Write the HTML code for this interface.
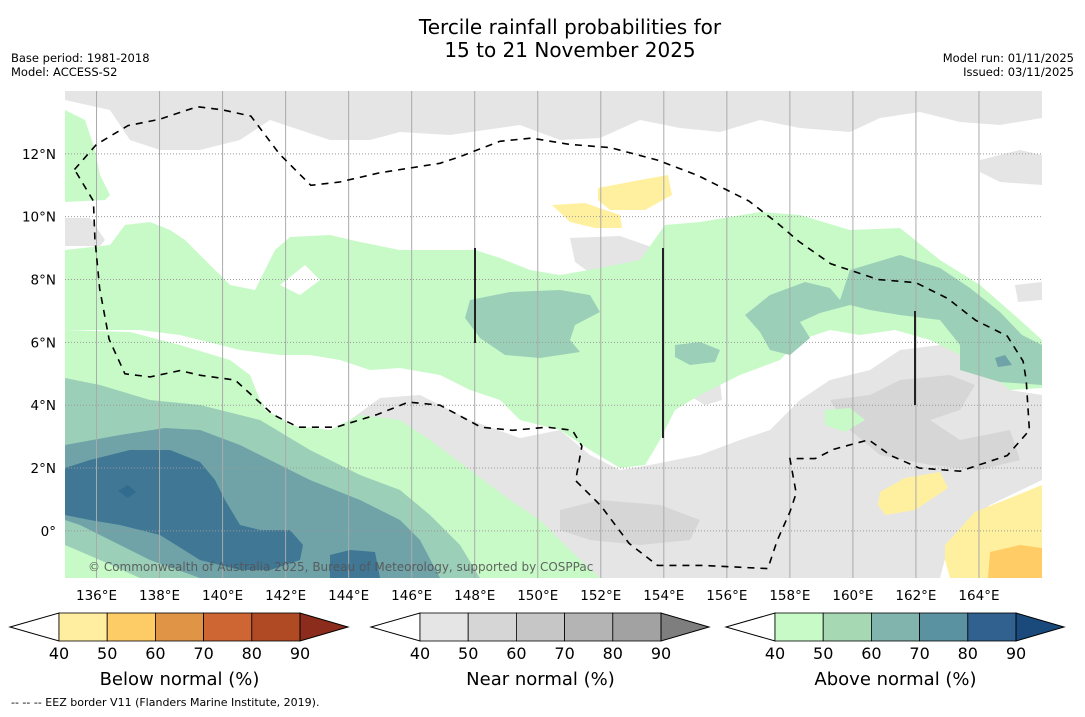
<!DOCTYPE html>
<html><head><meta charset="utf-8"><style>
html,body{margin:0;padding:0;background:#fff;}
body{width:1085px;height:713px;overflow:hidden;font-family:"DejaVu Sans","Liberation Sans",sans-serif;}
svg text{font-family:"DejaVu Sans","Liberation Sans",sans-serif;}
</style></head><body>
<svg id="fig" width="1085" height="713" viewBox="0 0 1085 713" xmlns="http://www.w3.org/2000/svg">
<rect width="1085" height="713" fill="#fff"/>
<text x="570" y="34" font-size="20" text-anchor="middle" fill="#000">Tercile rainfall probabilities for</text>
<text x="570" y="57" font-size="20" text-anchor="middle" fill="#000">15 to 21 November 2025</text>
<text x="11" y="62" font-size="11.5">Base period: 1981-2018</text>
<text x="11" y="76" font-size="11.5">Model: ACCESS-S2</text>
<text x="1074" y="62" font-size="11.5" text-anchor="end">Model run: 01/11/2025</text>
<text x="1074" y="76" font-size="11.5" text-anchor="end">Issued: 03/11/2025</text>
<defs><clipPath id="mapclip"><rect x="65" y="91" width="977" height="487"/></clipPath></defs>
<g id="map" clip-path="url(#mapclip)">
<rect x="65" y="91" width="977" height="487" fill="#fff"/>
<path fill="#e5e5e5" d="M65,91 L1042,91 L1042,118 L1000,125 L960,122 L920,112 L880,118 L850,132 L800,128 L760,120 L720,132 L680,128 L640,120 L600,138 L560,140 L520,125 L450,135 L400,132 L370,140 L330,140 L300,130 L270,120 L240,140 L200,150 L160,150 L130,140 L110,110 L65,100 Z"/>
<path fill="#e5e5e5" d="M350,420 L380,398 L420,395 L470,420 L520,438 L560,430 L590,455 L620,470 L650,465 L700,455 L740,440 L770,430 L800,400 L830,380 L870,370 L900,350 L940,345 L980,350 L1010,390 L1042,395 L1042,480 L990,505 L950,540 L940,578 L560,578 L470,560 L420,525 L395,480 L360,455 Z"/>
<path fill="#d6d6d6" d="M560,510 L600,500 L660,505 L700,520 L690,540 L640,545 L590,540 L560,530 Z"/>
<path fill="#d6d6d6" d="M830,400 L870,395 L900,380 L950,375 L975,385 L960,410 L930,420 L960,440 L1010,430 L1020,460 L980,470 L930,465 L880,455 L850,430 Z"/>
<path fill="#e5e5e5" d="M570,238 L620,236 L660,250 L680,268 L670,290 L645,312 L620,305 L600,280 L575,262 Z"/>
<path fill="#e5e5e5" d="M65,218 L90,218 L105,240 L100,246 L65,246 Z"/>
<path fill="#e5e5e5" d="M690,382 L720,382 L722,400 L705,405 L688,395 Z"/>
<path fill="#e5e5e5" d="M980,160 L1020,150 L1042,155 L1042,185 L1000,182 L980,172 Z"/>
<path fill="#e5e5e5" d="M1015,285 L1042,282 L1042,300 L1018,302 Z"/>
<path fill="#c8fac8" d="M65,250 L110,245 L125,225 L150,222 L170,230 L185,240 L210,265 L230,285 L255,290 L275,250 L290,237 L330,235 L360,242 L400,250 L440,250 L475,250 L500,258 L530,270 L560,275 L600,268 L640,260 L665,225 L700,222 L760,212 L800,215 L850,230 L900,228 L940,260 L980,285 L1020,320 L1042,340 L1042,388 L1010,390 L985,370 L960,355 L930,340 L895,330 L860,335 L830,330 L800,340 L780,360 L740,375 L700,395 L675,410 L660,440 L645,465 L620,468 L590,450 L560,430 L520,420 L500,400 L470,390 L440,375 L400,368 L370,370 L340,360 L310,355 L280,355 L240,350 L220,345 L180,335 L140,330 L100,330 L65,330 Z"/>
<path fill="#c8fac8" d="M65,110 L85,120 L95,150 L100,175 L110,195 L105,200 L65,202 Z"/>
<path fill="#c8fac8" d="M65,330 L130,332 L180,345 L230,360 L250,375 L260,400 L290,425 L330,430 L360,415 L400,420 L430,440 L470,470 L510,500 L540,520 L570,550 L600,578 L65,578 Z"/>
<path fill="#c8fac8" d="M825,410 L850,408 L865,420 L845,432 L825,425 Z"/>
<path fill="#fff" d="M280,285 L305,265 L320,280 L300,295 Z"/>
<path fill="#fff" d="M255,380 L300,372 L340,385 L360,405 L340,425 L300,428 L265,410 Z"/>
<path fill="#9bcfb8" d="M65,378 L100,385 L150,400 L200,405 L260,420 L310,450 L360,475 L400,490 L430,515 L460,545 L480,578 L140,578 L100,560 L65,545 Z"/>
<path fill="#6fa3a8" d="M65,445 L120,435 L165,428 L200,430 L240,445 L280,465 L310,480 L360,500 L400,520 L420,540 L440,578 L200,578 L150,560 L110,540 L80,525 L65,520 Z"/>
<path fill="#3f7795" d="M65,468 L90,460 L130,450 L170,450 L200,462 L215,480 L225,500 L240,525 L260,530 L290,530 L303,545 L300,560 L270,570 L240,570 L200,560 L160,535 L120,525 L90,520 L65,515 Z"/>
<path fill="#3f7795" d="M330,555 L350,550 L375,552 L380,578 L330,578 Z"/>
<path fill="#336b8f" d="M118,491 L128,485 L136,492 L128,498 Z"/>
<path fill="#9bcfb8" d="M470,300 L510,292 L560,290 L590,295 L600,312 L575,325 L570,340 L580,352 L540,358 L505,355 L480,338 L465,318 Z"/>
<path fill="#9bcfb8" d="M745,315 L770,295 L805,282 L830,288 L840,300 L850,270 L900,255 L940,268 L970,288 L1000,312 L1022,335 L1042,345 L1042,385 L1000,382 L960,370 L960,345 L940,320 L900,315 L870,310 L850,305 L820,313 L800,322 L810,338 L790,355 L770,350 L760,332 Z"/>
<path fill="#9bcfb8" d="M675,345 L700,342 L720,350 L715,362 L690,365 L675,357 Z"/>
<path fill="#6fa3a8" d="M995,358 L1005,355 L1012,365 L998,367 Z"/>
<path fill="#fff0a0" d="M598,188 L640,180 L668,175 L672,195 L645,210 L610,210 L598,200 Z"/>
<path fill="#fff0a0" d="M552,205 L585,203 L605,210 L620,215 L622,228 L595,228 L570,222 Z"/>
<path fill="#fff0a0" d="M880,492 L905,478 L940,472 L948,488 L915,510 L885,515 L878,505 Z"/>
<path fill="#fff0a0" d="M945,545 L975,512 L1010,498 L1042,485 L1042,578 L950,578 L945,560 Z"/>
<path fill="#ffcc66" d="M990,552 L1020,545 L1042,548 L1042,578 L988,578 Z"/>
</g>
<g id="grid"></g>
<g id="eez"></g>
<line x1="475" y1="248" x2="475" y2="343" stroke="#222" stroke-width="2"/>
<line x1="663" y1="248" x2="663" y2="438" stroke="#222" stroke-width="2"/>
<line x1="915" y1="311" x2="915" y2="405" stroke="#222" stroke-width="2"/>
<text x="88" y="571" font-size="12" fill="#555" opacity="0.9">© Commonwealth of Australia 2025, Bureau of Meteorology, supported by COSPPac</text>
<g id="axislabels"></g>
<g id="cbars"></g>
<text x="11" y="706" font-size="11">--  --  -- EEZ border V11 (Flanders Marine Institute, 2019).</text>
</svg>
<script>
const lonTicks = [136,138,140,142,144,146,148,150,152,154,156,158,160,162,164];
const latTicks = [0,2,4,6,8,10,12];
const cbLevels = [40,50,60,70,80,90];
const belowColors = ["#fff","#ffeda0","#fecc66","#e09445","#cd6633","#af4a25","#8b2c1c"];
const nearColors = ["#fff","#e5e5e5","#d6d6d6","#c6c6c6","#b4b4b4","#a2a2a2","#7e7e7e"];
const aboveColors = ["#fff","#c8fac8","#a6d8b4","#80b4ac","#5a92a2","#30618f","#1a4a7c"];
const cbTitles = ["Below normal (%)","Near normal (%)","Above normal (%)"];
const eezLon = [135.3,136.0,137.0,138.0,139.2,140.0,140.9,141.8,142.8,143.7,145.0,146.9,147.5,148.8,149.8,151.0,152.3,153.8,155.1,156.7,157.6,158.3,159.3,160.8,162.0,163.0,163.9,164.9,165.4,165.5,165.6,164.9,163.4,162.1,161.2,160.5,159.4,158.8,158.0,158.2,158.0,157.6,157.3,155.2,153.8,152.9,152.0,151.2,151.4,151.1,150.3,149.2,148.2,146.9,145.9,144.9,143.6,142.4,141.6,140.4,139.3,138.65,137.7,136.9,136.4,136.1,135.95,135.9,135.3];
const eezLat = [11.5,12.3,12.9,13.1,13.5,13.4,13.2,12.0,11.0,11.1,11.4,11.7,11.9,12.4,12.5,12.3,12.2,11.8,11.3,10.5,9.8,9.2,8.5,8.0,7.9,7.4,6.7,6.2,5.4,4.8,3.2,2.4,1.9,2.0,2.4,2.9,2.6,2.3,2.3,1.2,0.6,-0.3,-1.2,-1.1,-1.1,-0.4,0.8,1.6,2.7,3.2,3.3,3.2,3.3,4.0,4.1,3.7,3.3,3.3,3.7,4.8,4.95,5.1,4.9,5.0,6.1,7.7,9.3,10.5,11.5];
const X0=65, X1=1042, Y0=91, Y1=578, LON0=135, LON1=166, LAT0=-1.5, LAT1=14;
const xs = lon => X0 + (lon-LON0)/(LON1-LON0)*(X1-X0);
const ys = lat => Y1 - (lat-LAT0)/(LAT1-LAT0)*(Y1-Y0);
const NS="http://www.w3.org/2000/svg";
function mk(tag, attrs, parent){const e=document.createElementNS(NS,tag);for(const k in attrs)e.setAttribute(k,attrs[k]);parent.appendChild(e);return e;}
const gridG=document.getElementById('grid'), alG=document.getElementById('axislabels');
lonTicks.forEach(l=>{
  const ln=mk('line',{x1:xs(l),x2:xs(l),y1:Y0,y2:Y1,stroke:'#aaa','stroke-width':1},gridG);
  
  
  const t=mk('text',{x:xs(l),y:600,'font-size':13.5,'text-anchor':'middle'},alG);
  t.textContent=l+'°E';
  
  
});
latTicks.forEach(l=>{
  const ln=mk('line',{x1:X0,x2:X1,y1:ys(l),y2:ys(l),stroke:'#999','stroke-width':1,'stroke-dasharray':'1,2'},gridG);
  
  
  const t=mk('text',{x:56,y:ys(l)+5,'font-size':13.5,'text-anchor':'end'},alG);
  t.textContent=l===0?'0°':l+'°N';
  
  
});
const eezG=document.getElementById('eez');
const eezPts=eezLon.map((l,i)=>xs(l).toFixed(1)+','+ys(eezLat[i]).toFixed(1)).join(' ');
const eezLine=mk('polyline',{points:eezPts,fill:'none',stroke:'#000','stroke-width':1.6,'stroke-dasharray':'7,6'},eezG);


const cbG=document.getElementById('cbars');
const cbStarts=[59,420,775], cbW=48.2, cbTop=613, cbBot=641;
[belowColors,nearColors,aboveColors].forEach((cols,ci)=>{
  const s=cbStarts[ci], e=s+cbW*5, mid=(cbTop+cbBot)/2;
  const la=mk('polygon',{points:`${s},${cbTop} ${s},${cbBot} ${s-49},${mid}`,fill:cols[0],stroke:'#000','stroke-width':1},cbG);
  
  
  for(let i=0;i<5;i++){
    const r=mk('rect',{x:s+i*cbW,y:cbTop,width:cbW,height:cbBot-cbTop,fill:cols[i+1],stroke:'#000','stroke-width':0.8},cbG);
    
    
  }
  const ra=mk('polygon',{points:`${e},${cbTop} ${e},${cbBot} ${e+48},${mid}`,fill:cols[6],stroke:'#000','stroke-width':1},cbG);
  
  
  cbLevels.forEach((v,i)=>{
    const t=mk('text',{x:s+i*cbW,y:659,'font-size':16,'text-anchor':'middle'},cbG);
    t.textContent=v;
    
    
  });
  const tt=mk('text',{x:s+cbW*2.5,y:685,'font-size':18,'text-anchor':'middle'},cbG);
  tt.textContent=cbTitles[ci];
  
  
});
</script>
</body></html>
